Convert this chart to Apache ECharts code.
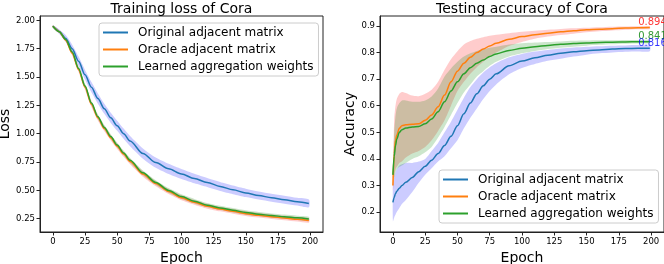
<!DOCTYPE html>
<html><head><meta charset="utf-8">
<script src="https://cdn.jsdelivr.net/npm/echarts@6/dist/echarts.min.js"></script>
<style>html,body{margin:0;padding:0;background:#fff}#c{width:664px;height:264px}</style>
</head><body><div id="c"></div>
<script>
// ---------- data ----------
const seriesNames = ['Original adjacent matrix', 'Oracle adjacent matrix', 'Learned aggregation weights'];
const xTicks = [0, 25, 50, 75, 100, 125, 150, 175, 200];
const lossTicks = [0.25, 0.5, 0.75, 1.0, 1.25, 1.5, 1.75, 2.0];
const accTicks = [0.2, 0.3, 0.4, 0.5, 0.6, 0.7, 0.8, 0.9];

// Training loss (left)
const epochsL = [0,5,10,15,20,25,30,35,40,45,50,55,60,70,80,90,100,110,120,130,140,150,160,170,180,190,199];
const lossOrig    = [1.947,1.90,1.84,1.75,1.64,1.52,1.41,1.31,1.22,1.14,1.07,1.00,0.935,0.825,0.745,0.69,0.645,0.605,0.57,0.535,0.505,0.478,0.455,0.435,0.418,0.40,0.385];
const lossOracle  = [1.947,1.90,1.825,1.71,1.565,1.41,1.26,1.14,1.045,0.965,0.89,0.82,0.755,0.645,0.56,0.49,0.435,0.395,0.36,0.335,0.315,0.295,0.28,0.268,0.256,0.245,0.235];
const lossLearned = [1.947,1.90,1.83,1.72,1.575,1.42,1.27,1.15,1.055,0.975,0.90,0.83,0.765,0.655,0.57,0.50,0.445,0.405,0.37,0.345,0.325,0.305,0.29,0.278,0.268,0.258,0.248];
const lossOrigStd    = [0.01,0.02,0.03,0.035,0.04,0.042,0.045,0.045,0.045,0.045,0.045,0.045,0.045,0.045,0.045,0.045,0.044,0.042,0.04,0.04,0.038,0.037,0.036,0.035,0.035,0.034,0.034];
const lossOracleStd  = [0.01,0.012,0.015,0.018,0.02,0.022,0.024,0.024,0.024,0.024,0.024,0.024,0.024,0.024,0.023,0.022,0.022,0.021,0.021,0.02,0.02,0.02,0.02,0.02,0.02,0.02,0.02];
const lossLearnedStd = [0.01,0.012,0.014,0.016,0.018,0.02,0.021,0.021,0.021,0.021,0.021,0.021,0.021,0.021,0.02,0.02,0.02,0.02,0.019,0.019,0.019,0.019,0.019,0.019,0.019,0.019,0.019];

// Testing accuracy (right)
const epochsR = [0,1,2,3,5,7,10,15,20,25,30,35,40,45,50,55,60,65,70,75,80,90,100,110,120,130,140,150,160,170,180,190,199];
const accOrig    = [0.236,0.255,0.27,0.278,0.29,0.30,0.312,0.33,0.352,0.372,0.395,0.42,0.45,0.485,0.525,0.57,0.61,0.645,0.675,0.70,0.72,0.75,0.768,0.78,0.79,0.797,0.803,0.807,0.81,0.813,0.815,0.816,0.816];
const accOracle  = [0.30,0.42,0.47,0.49,0.515,0.525,0.528,0.53,0.532,0.545,0.565,0.596,0.64,0.69,0.73,0.76,0.782,0.80,0.813,0.825,0.835,0.85,0.86,0.867,0.873,0.878,0.882,0.886,0.888,0.89,0.892,0.893,0.894];
const accLearned = [0.34,0.41,0.45,0.475,0.50,0.51,0.516,0.52,0.522,0.532,0.55,0.577,0.615,0.655,0.69,0.72,0.743,0.76,0.772,0.785,0.795,0.808,0.816,0.822,0.827,0.831,0.834,0.836,0.838,0.839,0.84,0.841,0.841];
const accOrigUp   = [0.30,0.33,0.35,0.36,0.375,0.38,0.385,0.385,0.39,0.40,0.43,0.46,0.50,0.54,0.585,0.63,0.67,0.70,0.725,0.745,0.76,0.782,0.795,0.804,0.81,0.815,0.819,0.822,0.824,0.826,0.827,0.828,0.828];
const accOrigLo   = [0.165,0.18,0.19,0.20,0.215,0.23,0.245,0.275,0.31,0.34,0.365,0.39,0.41,0.44,0.47,0.515,0.555,0.59,0.625,0.655,0.68,0.718,0.742,0.757,0.769,0.777,0.785,0.792,0.797,0.80,0.803,0.804,0.805];
const accOracleUp = [0.32,0.55,0.60,0.625,0.645,0.652,0.648,0.638,0.636,0.645,0.66,0.69,0.735,0.775,0.805,0.83,0.843,0.852,0.858,0.863,0.867,0.873,0.878,0.882,0.886,0.889,0.891,0.893,0.895,0.897,0.898,0.899,0.899];
const accOracleLo = [0.28,0.33,0.36,0.37,0.385,0.39,0.405,0.42,0.43,0.445,0.47,0.505,0.545,0.60,0.655,0.69,0.72,0.745,0.765,0.785,0.80,0.825,0.84,0.852,0.86,0.866,0.871,0.876,0.88,0.883,0.886,0.888,0.889];
const accLearnedUp = [0.35,0.50,0.56,0.59,0.61,0.62,0.62,0.615,0.615,0.62,0.635,0.665,0.71,0.74,0.765,0.785,0.797,0.806,0.813,0.818,0.822,0.83,0.835,0.838,0.84,0.842,0.844,0.845,0.846,0.846,0.847,0.847,0.847];
const accLearnedLo = [0.33,0.33,0.35,0.36,0.37,0.375,0.385,0.40,0.41,0.425,0.445,0.48,0.52,0.565,0.61,0.65,0.68,0.71,0.73,0.75,0.765,0.785,0.797,0.806,0.813,0.818,0.822,0.826,0.829,0.831,0.833,0.834,0.835];

const annoEpoch = 190;
const annoValues = [0.894, 0.841, 0.816];
const annoColors = ['#ff0000', '#008000', '#0000ff'];

// ---------- styling ----------
const lineColors = ['#1f77b4', '#ff7f0e', '#2ca02c'];
const bandColors = ['rgba(0,0,255,0.2)', 'rgba(255,0,0,0.2)', 'rgba(0,128,0,0.2)'];
const FONT = 'DejaVu Sans';

function pairs(xs, ys) { return xs.map((x, i) => [x, ys[i]]); }

function band(xs, lo, hi, color, gi) {
  return {
    type: 'custom', xAxisIndex: gi, yAxisIndex: gi, z: 1, silent: true, clip: true,
    data: [[xs[0], lo[0]]],
    renderItem: function (params, api) {
      const upper = xs.map((x, i) => api.coord([x, hi[i]]));
      const lower = xs.map((x, i) => api.coord([x, lo[i]])).reverse();
      return { type: 'polygon', shape: { points: upper.concat(lower), smooth: 0.25 }, style: { fill: color, stroke: null } };
    }
  };
}
function mainLine(name, xs, ys, color, gi) {
  return { type: 'line', name: name, xAxisIndex: gi, yAxisIndex: gi, data: pairs(xs, ys), symbol: 'none',
    smooth: 0.3, smoothMonotone: 'x', lineStyle: { color: color, width: 1.5 }, itemStyle: { color: color }, z: 3 };
}

const series = [];
series.push(band(epochsL, lossOrig.map((v,i)=>v-lossOrigStd[i]), lossOrig.map((v,i)=>v+lossOrigStd[i]), bandColors[0], 0));
series.push(band(epochsL, lossOracle.map((v,i)=>v-lossOracleStd[i]), lossOracle.map((v,i)=>v+lossOracleStd[i]), bandColors[1], 0));
series.push(band(epochsL, lossLearned.map((v,i)=>v-lossLearnedStd[i]), lossLearned.map((v,i)=>v+lossLearnedStd[i]), bandColors[2], 0));
series.push(mainLine(seriesNames[0], epochsL, lossOrig, lineColors[0], 0));
series.push(mainLine(seriesNames[1], epochsL, lossOracle, lineColors[1], 0));
series.push(mainLine(seriesNames[2], epochsL, lossLearned, lineColors[2], 0));
series.push(band(epochsR, accOrigLo, accOrigUp, bandColors[0], 1));
series.push(band(epochsR, accOracleLo, accOracleUp, bandColors[1], 1));
series.push(band(epochsR, accLearnedLo, accLearnedUp, bandColors[2], 1));
series.push(mainLine(seriesNames[0], epochsR, accOrig, lineColors[0], 1));
series.push(mainLine(seriesNames[1], epochsR, accOracle, lineColors[1], 1));
series.push(mainLine(seriesNames[2], epochsR, accLearned, lineColors[2], 1));
series.push({
  type: 'scatter', xAxisIndex: 1, yAxisIndex: 1, symbolSize: 0, z: 5, silent: true,
  data: annoValues.map((v, i) => ({ value: [annoEpoch, v], label: { color: annoColors[i] } })),
  label: { show: true, position: [0, 0], align: 'left', verticalAlign: 'bottom', fontFamily: FONT, fontSize: 10,
    formatter: p => p.value[1].toFixed(3) }
});

function xAxis(gi) {
  return { type: 'value', gridIndex: gi, min: -10, max: 210, name: 'Epoch', nameLocation: 'middle', nameGap: 15,
    nameTextStyle: { fontFamily: FONT, fontSize: 14, color: '#000' },
    axisLine: { show: true, onZero: false, lineStyle: { color: '#222', width: 1 } },
    axisTick: { show: true, length: 3.5, lineStyle: { color: '#222' }, customValues: xTicks },
    axisLabel: { fontFamily: FONT, fontSize: 8.5, color: '#000', margin: 5, customValues: xTicks, formatter: v => String(v) },
    splitLine: { show: false } };
}
function yAxis(gi, name, min, max, ticks, dec, gap) {
  return { type: 'value', gridIndex: gi, min: min, max: max, name: name, nameLocation: 'middle', nameGap: gap,
    nameTextStyle: { fontFamily: FONT, fontSize: 14, color: '#000' },
    axisLine: { show: true, onZero: false, lineStyle: { color: '#222', width: 1 } },
    axisTick: { show: true, length: 3.5, lineStyle: { color: '#222' }, customValues: ticks },
    axisLabel: { fontFamily: FONT, fontSize: 8.5, color: '#000', margin: 5, customValues: ticks, formatter: v => v.toFixed(dec) },
    splitLine: { show: false } };
}
function legend(left, top) {
  return { data: seriesNames.map(n => ({ name: n })), orient: 'vertical', left: left, top: top, icon: 'rect',
    itemWidth: 25, itemHeight: 2, itemGap: 2, padding: [2, 5, 2, 4],
    backgroundColor: 'rgba(255,255,255,0.8)', borderColor: '#cccccc', borderWidth: 1, borderRadius: 3,
    textStyle: { fontFamily: FONT, fontSize: 12, color: '#000', lineHeight: 15, padding: [0, 0, 0, 5] },
    selectedMode: false };
}

const option = {
  animation: false,
  backgroundColor: '#fff',
  title: [
    { text: 'Training loss of Cora', left: 181.5, textAlign: 'center', top: 0, padding: [2, 0, 0, 0],
      textStyle: { fontFamily: FONT, fontSize: 14, fontWeight: 'normal', color: '#000' } },
    { text: 'Testing accuracy of Cora', left: 522, textAlign: 'center', top: 0, padding: [2, 0, 0, 0],
      textStyle: { fontFamily: FONT, fontSize: 14, fontWeight: 'normal', color: '#000' } }
  ],
  grid: [
    { left: 40, top: 16, width: 283, height: 216, show: true, borderColor: '#222', borderWidth: 1, backgroundColor: 'transparent', containLabel: false, outerBoundsMode: 'none' },
    { left: 380, top: 16, width: 284, height: 216, show: true, borderColor: '#222', borderWidth: 1, backgroundColor: 'transparent', containLabel: false, outerBoundsMode: 'none' }
  ],
  xAxis: [xAxis(0), xAxis(1)],
  yAxis: [yAxis(0, 'Loss', 0.133, 2.038, lossTicks, 2, 24), yAxis(1, 'Accuracy', 0.125, 0.9375, accTicks, 1, 21)],
  legend: [legend(99, 23), legend(439, 170)],
  series: series
};
const chart = echarts.init(document.getElementById('c'), null, { renderer: 'canvas' });
chart.setOption(option);
</script></body></html>
